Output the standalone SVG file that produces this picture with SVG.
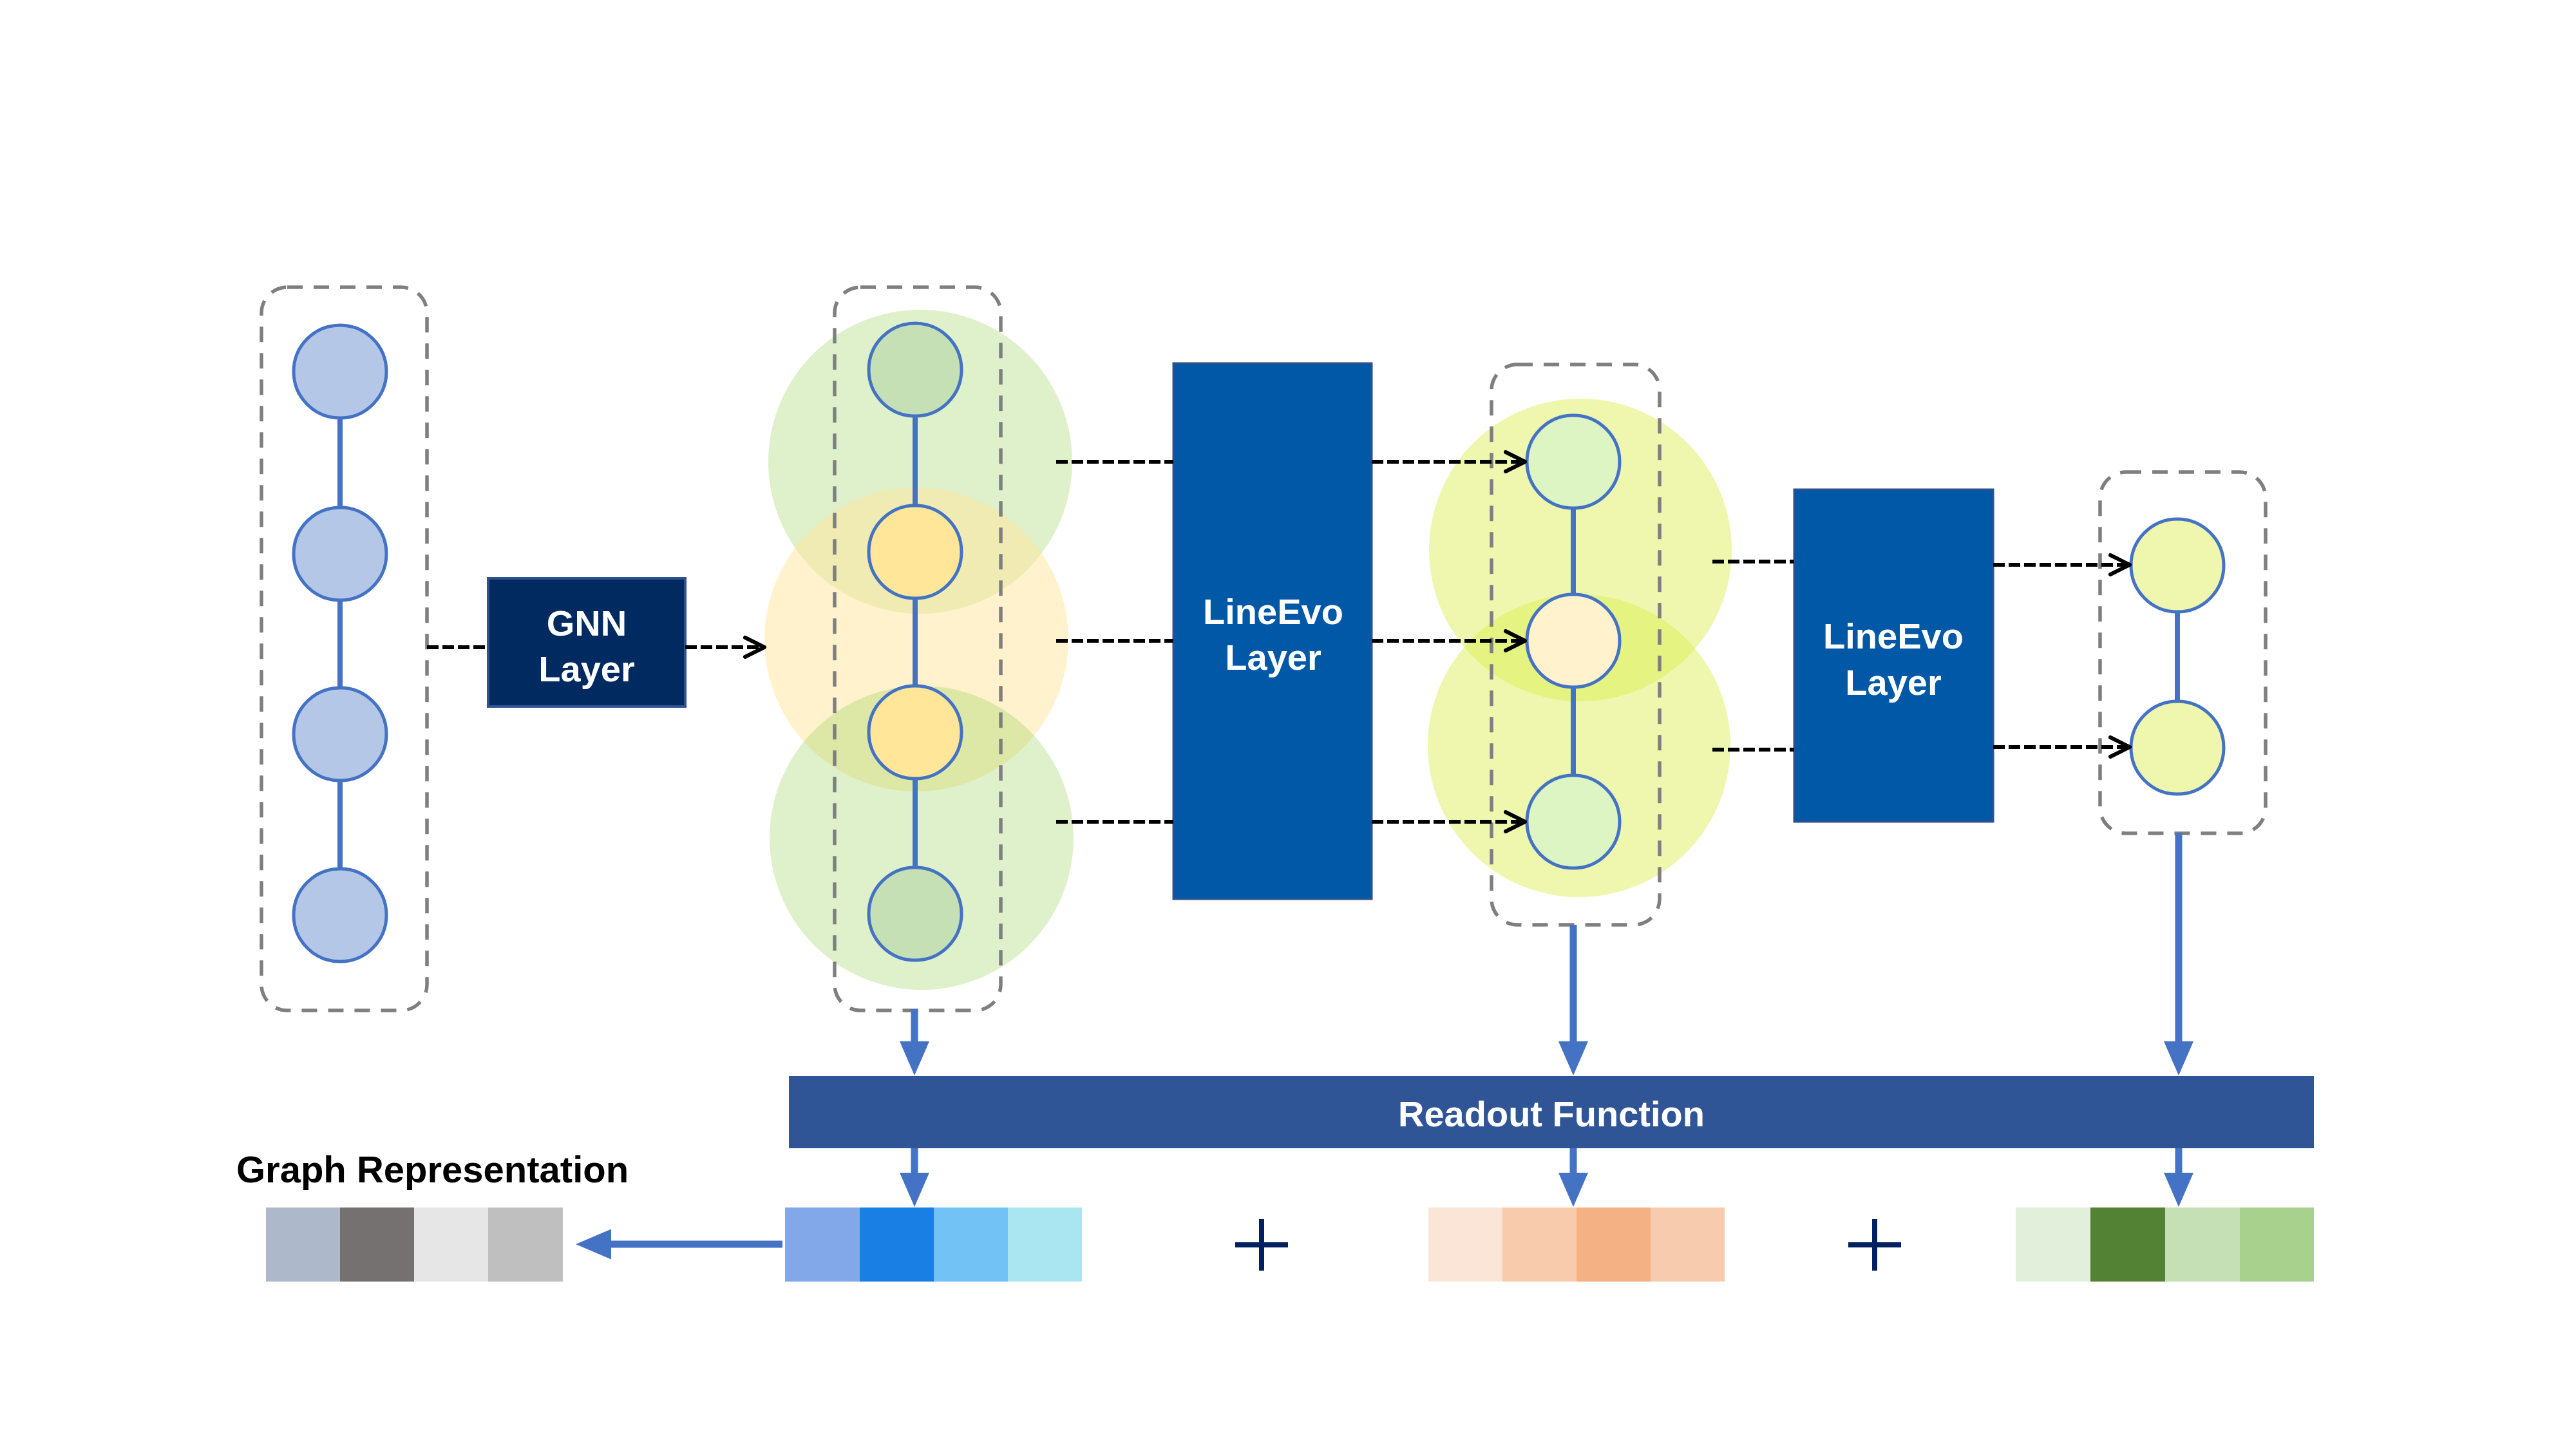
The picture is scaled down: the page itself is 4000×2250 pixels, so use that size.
<svg xmlns="http://www.w3.org/2000/svg" width="4000" height="2250" viewBox="0 0 4000 2250">
<style>
.dbox{fill:none;stroke:#7F7F7F;stroke-width:5.5;stroke-dasharray:24 17}
.node{stroke:#4472C4;stroke-width:5}
.edge{stroke:#4472C4;stroke-width:8}
.dash{stroke:#000;stroke-width:6;stroke-dasharray:18 6;fill:none}
.flow{stroke:#4472C4;stroke-width:11;fill:none}
.lbl{font-family:"Liberation Sans",Arial,sans-serif;font-weight:bold;font-size:56px;fill:#fff;text-anchor:middle}
.blk{font-family:"Liberation Sans",Arial,sans-serif;font-weight:bold;font-size:58px;fill:#000}
.plus{stroke:#002060;stroke-width:8;fill:none}
.grn{fill:#92D050;opacity:0.3}
.org{fill:#FFE699;opacity:0.5}
.ylw{fill:#D9ED49;opacity:0.45}
</style>
<defs>
<marker id="chev" viewBox="0 0 36 36" refX="33" refY="18" markerWidth="36" markerHeight="36" markerUnits="userSpaceOnUse" orient="auto"><path d="M3,3 L33,18 L3,33" fill="none" stroke="#000" stroke-width="6" stroke-linecap="round" stroke-linejoin="round"/></marker>
<marker id="tri" viewBox="0 0 53 46" refX="1" refY="23" markerWidth="53" markerHeight="46" markerUnits="userSpaceOnUse" orient="auto"><path d="M0,0 L53,23 L0,46 Z" fill="#4472C4"/></marker>
<marker id="tri2" viewBox="0 0 55 47" refX="1" refY="23.5" markerWidth="55" markerHeight="47" markerUnits="userSpaceOnUse" orient="auto"><path d="M0,0 L55,23.5 L0,47 Z" fill="#4472C4"/></marker>
</defs>
<rect width="4000" height="2250" fill="#fff"/>

<g id="halos">
<circle class="grn" cx="1429" cy="717" r="236"/>
<circle class="org" cx="1423" cy="993" r="236"/>
<circle class="grn" cx="1431" cy="1301" r="236"/>
<circle class="ylw" cx="2454" cy="854" r="235"/>
<circle class="ylw" cx="2452" cy="1158" r="235"/>
</g>

<g id="input-graph">
<rect class="dbox" x="406" y="446" width="257" height="1123" rx="40"/>
<line class="edge" x1="528" y1="577" x2="528" y2="1421"/>
<circle class="node" cx="528" cy="577" r="72" fill="#B4C7E7"/>
<circle class="node" cx="528" cy="860" r="72" fill="#B4C7E7"/>
<circle class="node" cx="528" cy="1140" r="72" fill="#B4C7E7"/>
<circle class="node" cx="528" cy="1421" r="72" fill="#B4C7E7"/>
</g>

<g id="gnn-layer">
<rect x="758" y="898" width="306" height="199" fill="#002A60" stroke="#2F528F" stroke-width="4"/>
<text class="lbl" x="911" y="987">GNN</text>
<text class="lbl" x="911" y="1058">Layer</text>
</g>

<g id="graph-1">
<rect class="dbox" x="1296" y="446" width="258" height="1123" rx="40"/>
<line class="edge" x1="1421" y1="574" x2="1421" y2="1419"/>
<circle class="node" cx="1421" cy="574" r="72" fill="#C5E0B4"/>
<circle class="node" cx="1421" cy="857" r="72" fill="#FFE699"/>
<circle class="node" cx="1421" cy="1137" r="72" fill="#FFE699"/>
<circle class="node" cx="1421" cy="1419" r="72" fill="#C5E0B4"/>
</g>

<g id="lineevo-1">
<rect x="1822" y="564" width="308" height="832" fill="#0058A6" stroke="#2F528F" stroke-width="3"/>
<text class="lbl" x="1977" y="969">LineEvo</text>
<text class="lbl" x="1977" y="1040">Layer</text>
</g>

<g id="graph-2">
<rect class="dbox" x="2316" y="566" width="261" height="870" rx="40"/>
<line class="edge" x1="2443" y1="717" x2="2443" y2="1276"/>
<circle class="node" cx="2443" cy="717" r="72" fill="#DDF4C3"/>
<circle class="node" cx="2443" cy="995" r="72" fill="#FFF2CC"/>
<circle class="node" cx="2443" cy="1276" r="72" fill="#DDF4C3"/>
</g>

<g id="lineevo-2">
<rect x="2786" y="760" width="309" height="516" fill="#0058A6" stroke="#2F528F" stroke-width="3"/>
<text class="lbl" x="2940" y="1007">LineEvo</text>
<text class="lbl" x="2940" y="1079">Layer</text>
</g>

<g id="graph-3">
<rect class="dbox" x="3261" y="733" width="257" height="561" rx="40"/>
<line class="edge" x1="3381" y1="878" x2="3381" y2="1161"/>
<circle class="node" cx="3381" cy="878" r="72" fill="#EEF7AD"/>
<circle class="node" cx="3381" cy="1161" r="72" fill="#EEF7AD"/>
</g>

<g id="readout">
<rect x="1225" y="1671" width="2368" height="112" fill="#2F5597"/>
<text class="lbl" x="2409" y="1749">Readout Function</text>
</g>

<g id="graph-representation">
<text class="blk" x="367" y="1836">Graph Representation</text>
<rect x="413" y="1875" width="115" height="115" fill="#ADB9CA"/>
<rect x="528" y="1875" width="115" height="115" fill="#767171"/>
<rect x="643" y="1875" width="115" height="115" fill="#E7E6E6"/>
<rect x="758" y="1875" width="116" height="115" fill="#BFBFBF"/>
</g>

<g id="vec-1">
<rect x="1219" y="1875" width="116" height="115" fill="#83A8EA"/>
<rect x="1335" y="1875" width="115" height="115" fill="#1A7FE4"/>
<rect x="1450" y="1875" width="115" height="115" fill="#73C2F6"/>
<rect x="1565" y="1875" width="115" height="115" fill="#A9E6F2"/>
</g>

<g id="vec-2">
<rect x="2218" y="1875" width="115" height="115" fill="#FAE5D7"/>
<rect x="2333" y="1875" width="115" height="115" fill="#F8CBAD"/>
<rect x="2448" y="1875" width="115" height="115" fill="#F4B183"/>
<rect x="2563" y="1875" width="115" height="115" fill="#F7CBAE"/>
</g>

<g id="vec-3">
<rect x="3130" y="1875" width="116" height="115" fill="#E2EFDA"/>
<rect x="3246" y="1875" width="116" height="115" fill="#548235"/>
<rect x="3362" y="1875" width="116" height="115" fill="#C5E0B4"/>
<rect x="3478" y="1875" width="115" height="115" fill="#A9D18E"/>
</g>

<g id="plus-1"><path class="plus" d="M1959,1893 V1973 M1918,1933 H2000"/></g>
<g id="plus-2"><path class="plus" d="M2911,1893 V1973 M2870,1933 H2952"/></g>

<g id="connectors">
<line class="dash" x1="663" y1="1005" x2="758" y2="1005"/>
<line class="dash" x1="1064" y1="1005" x2="1187" y2="1005" marker-end="url(#chev)"/>
<line class="dash" x1="1640" y1="717" x2="1822" y2="717"/>
<line class="dash" x1="1640" y1="995" x2="1822" y2="995"/>
<line class="dash" x1="1640" y1="1276" x2="1822" y2="1276"/>
<line class="dash" x1="2130" y1="717" x2="2368" y2="717" marker-end="url(#chev)"/>
<line class="dash" x1="2130" y1="995" x2="2368" y2="995" marker-end="url(#chev)"/>
<line class="dash" x1="2130" y1="1276" x2="2368" y2="1276" marker-end="url(#chev)"/>
<line class="dash" x1="2659" y1="872" x2="2786" y2="872"/>
<line class="dash" x1="2659" y1="1164" x2="2786" y2="1164"/>
<line class="dash" x1="3095" y1="877" x2="3307" y2="877" marker-end="url(#chev)"/>
<line class="dash" x1="3095" y1="1160" x2="3307" y2="1160" marker-end="url(#chev)"/>
<line class="flow" x1="1420" y1="1567" x2="1420" y2="1618" marker-end="url(#tri)"/>
<line class="flow" x1="2443" y1="1436" x2="2443" y2="1618" marker-end="url(#tri)"/>
<line class="flow" x1="3383" y1="1294" x2="3383" y2="1618" marker-end="url(#tri)"/>
<line class="flow" x1="1420" y1="1783" x2="1420" y2="1822" marker-end="url(#tri)"/>
<line class="flow" x1="2443" y1="1783" x2="2443" y2="1822" marker-end="url(#tri)"/>
<line class="flow" x1="3383" y1="1783" x2="3383" y2="1822" marker-end="url(#tri)"/>
<line class="flow" x1="1215" y1="1932" x2="948" y2="1932" stroke-width="12" marker-end="url(#tri2)"/>
</g>
</svg>
